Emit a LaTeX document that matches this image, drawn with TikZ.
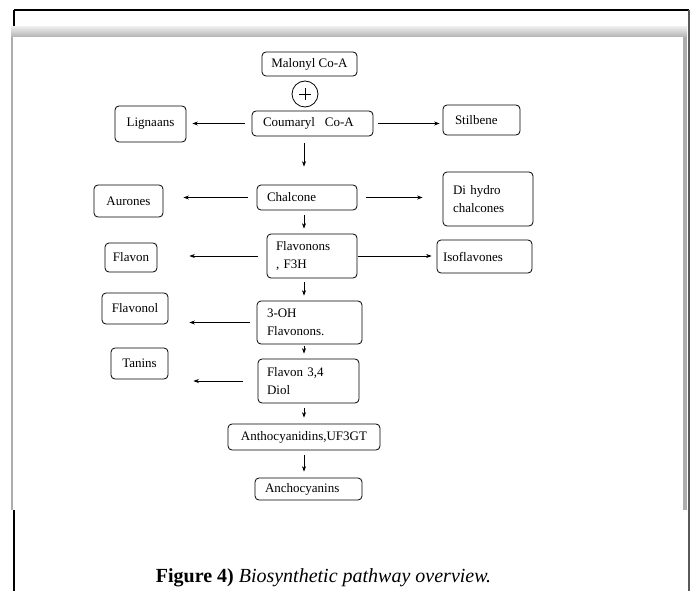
\documentclass[tikz,border=0pt]{standalone}
\usepackage{fontspec}
\setmainfont{Liberation Serif}
\usetikzlibrary{arrows.meta}
\tikzset{
  box/.style={draw, rounded corners=4pt, line width=0.8pt, inner sep=0pt,
    font=\fontsize{13}{18}\selectfont, align=center},
  lbox/.style={box, align=left},
  arr/.style={line width=0.6pt, -{Stealth[length=5.5pt,width=4pt]}},
}
\begin{document}
\begin{tikzpicture}[x=1pt,y=-1pt]
\useasboundingbox (0,0) rectangle (691,591);
% page frame
\draw[line width=1.6pt, black] (14,10) -- (689,10);
\draw[line width=1.4pt, black] (14,10) -- (14,28);
\draw[line width=1.4pt, black] (14,510) -- (14,591);
\draw[line width=2pt, black!65] (689,10) -- (689,591);
% toolbar band
\shade[top color=black!8, bottom color=black!30] (11,27) rectangle (687,37);
\fill[white] (13,37) rectangle (683,510);
\fill[black!32] (11,37) rectangle (13,510);
\fill[black!32] (683,37) rectangle (687,510);

% nodes
\node[box, minimum width=95, minimum height=24] (mal) at (309.5,64) {Malonyl Co-A};
\node[draw, circle, line width=0.8pt, minimum size=26, inner sep=0pt] (plus) at (305,94) {};
\draw[line width=0.6pt] ([xshift=-6]plus.center) -- ([xshift=6]plus.center);
\draw[line width=0.6pt] ([yshift=-6]plus.center) -- ([yshift=6]plus.center);
\node[lbox, minimum width=121, minimum height=25, text width=99] (cou) at (312.5,123.5) {Coumaryl\hspace{10pt}Co-A};
\node[box, minimum width=71, minimum height=36] (lig) at (150.5,124) {Lignaans};
\node[lbox, minimum width=77, minimum height=30, text width=53] (sti) at (481.5,120) {Stilbene};
\node[lbox, minimum width=100, minimum height=25, text width=80] (cha) at (307,197.5) {Chalcone};
\node[box, minimum width=69, minimum height=32] (aur) at (128.5,201) {Aurones};
\node[lbox, minimum width=90, minimum height=54, text width=70] (dih) at (488,199) {Di hydro\\chalcones};
\node[lbox, minimum width=90, minimum height=44, text width=72] (fla) at (312,256) {Flavonons\\, F3H};
\node[box, minimum width=52, minimum height=29] (flv) at (131,257.5) {Flavon};
\node[lbox, minimum width=95, minimum height=33, text width=83] (iso) at (484.5,256.5) {Isoflavones};
\node[box, minimum width=66, minimum height=31] (flo) at (135,308.5) {Flavonol};
\node[lbox, minimum width=105, minimum height=43, text width=85] (oh) at (309.5,322.5) {3-OH\\Flavonons.};
\node[box, minimum width=57, minimum height=31] (tan) at (139.5,363.5) {Tanins};
\node[lbox, minimum width=101, minimum height=44, text width=83] (diol) at (308.5,381) {Flavon 3,4\\Diol};
\node[box, minimum width=152, minimum height=26] (ant) at (304,437) {Anthocyanidins,UF3GT};
\node[lbox, minimum width=107, minimum height=22, text width=87] (anc) at (308.5,489) {Anchocyanins};

% connectors
\draw[arr, shorten <=7pt, shorten >=6pt] (cou.west) -- (cou.west -| lig.east);
\draw[arr, shorten <=5pt, shorten >=3pt] (cou.east) -- (cou.east -| sti.west);
\draw[arr, shorten <=7pt, shorten >=18pt] (cou.south -| ant.center) -- (cha.north -| ant.center);
\draw[arr, shorten <=9pt, shorten >=20pt] (cha.west) -- (cha.west -| aur.east);
\draw[arr, shorten <=9pt, shorten >=20pt] (cha.east) -- (cha.east -| dih.west);
\draw[arr, shorten <=5pt, shorten >=5pt] (cha.south -| ant.center) -- (fla.north -| ant.center);
\draw[arr, shorten <=9pt, shorten >=32pt] (fla.west) -- (fla.west -| flv.east);
\draw[arr, shorten <=1pt, shorten >=5pt] (fla.east) -- (fla.east -| iso.west);
\draw[arr, shorten <=4pt, shorten >=5pt] (fla.south -| ant.center) -- (oh.north -| ant.center);
\draw[arr, shorten <=7pt, shorten >=21pt] (oh.west) -- (oh.west -| flo.east);
\draw[arr, shorten <=2pt, shorten >=5pt] (oh.south -| ant.center) -- (diol.north -| ant.center);
\draw[arr, shorten <=15pt, shorten >=25pt] (diol.west) -- (diol.west -| tan.east);
\draw[arr, shorten <=5pt, shorten >=6pt] (diol.south -| ant.center) -- (ant.north);
\draw[arr, shorten <=5pt, shorten >=6pt] (ant.south) -- (anc.north -| ant.center);

% caption
\node[anchor=base, inner sep=0pt, font=\fontsize{20}{24}\selectfont] (cap) at (323.5,582)
  {\textbf{Figure 4)} \textit{Biosynthetic pathway overview.}};
\end{tikzpicture}
\end{document}
